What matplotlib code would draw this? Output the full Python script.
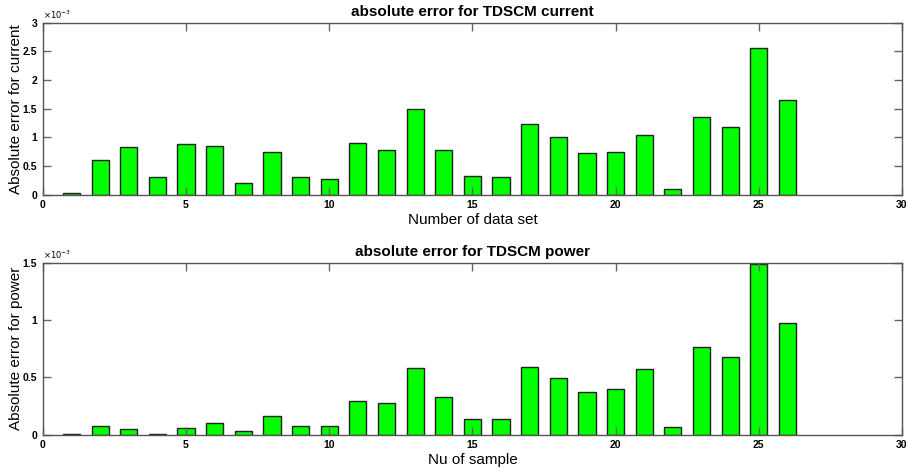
import matplotlib
matplotlib.use("Agg")
import matplotlib.pyplot as plt
import numpy as np

samples = list(range(1, 27))
current_err = [0.04, 0.60, 0.84, 0.32, 0.88, 0.86, 0.20, 0.74, 0.31, 0.27,
               0.90, 0.79, 1.49, 0.78, 0.33, 0.31, 1.24, 1.00, 0.73, 0.75,
               1.05, 0.11, 1.36, 1.19, 2.56, 1.65]
power_err = [0.01, 0.08, 0.05, 0.003, 0.06, 0.10, 0.035, 0.16, 0.08, 0.08,
             0.29, 0.28, 0.58, 0.33, 0.14, 0.14, 0.59, 0.49, 0.37, 0.40,
             0.57, 0.065, 0.76, 0.68, 1.49, 0.97]
current_err = [v * 1e-3 for v in current_err]
power_err = [v * 1e-3 for v in power_err]

plt.rcParams['font.family'] = ['Liberation Sans', 'DejaVu Sans']

fig = plt.figure(figsize=(9.12, 4.73), dpi=100)
ax1 = fig.add_axes([0.047, 0.588, 0.942, 0.364])
ax2 = fig.add_axes([0.047, 0.081, 0.942, 0.364])

specs = [
    (ax1, current_err, 3e-3, [0, 0.5e-3, 1e-3, 1.5e-3, 2e-3, 2.5e-3, 3e-3],
     ['0', '0.5', '1', '1.5', '2', '2.5', '3'],
     'absolute error for TDSCM current', 'Number of data set', 'Absolute error for current'),
    (ax2, power_err, 1.5e-3, [0, 0.5e-3, 1e-3, 1.5e-3],
     ['0', '0.5', '1', '1.5'],
     'absolute error for TDSCM power', 'Nu of sample', 'Absolute error for power'),
]

for ax, vals, ymax, yt, ytl, title, xlabel, ylabel in specs:
    ax.bar(samples, vals, width=0.6, color='#00ff00', edgecolor='#222222', linewidth=1.0)
    ax.set_xlim(0, 30)
    ax.set_ylim(0, ymax)
    ax.set_xticks(range(0, 31, 5))
    ax.set_xticklabels([str(t) for t in range(0, 31, 5)], fontsize=7.5, fontweight='bold')
    ax.set_yticks(yt)
    ax.set_yticklabels(ytl, fontsize=7.5, fontweight='bold')
    ax.tick_params(direction='in', length=6, width=1, color='#666666',
                   top=True, right=True, pad=4)
    for s in ax.spines.values():
        s.set_color('#555555')
        s.set_linewidth(1.0)
    ax.set_title(title, fontsize=11, fontweight='bold', pad=5)
    ax.set_xlabel(xlabel, fontsize=11, labelpad=2)
    ax.set_ylabel(ylabel, fontsize=11, labelpad=0)
    ax.text(0.0, 1.01, r'$\times10^{-3}$', transform=ax.transAxes, fontsize=6,
            ha='left', va='bottom')

fig.savefig('out.png', dpi=100)
